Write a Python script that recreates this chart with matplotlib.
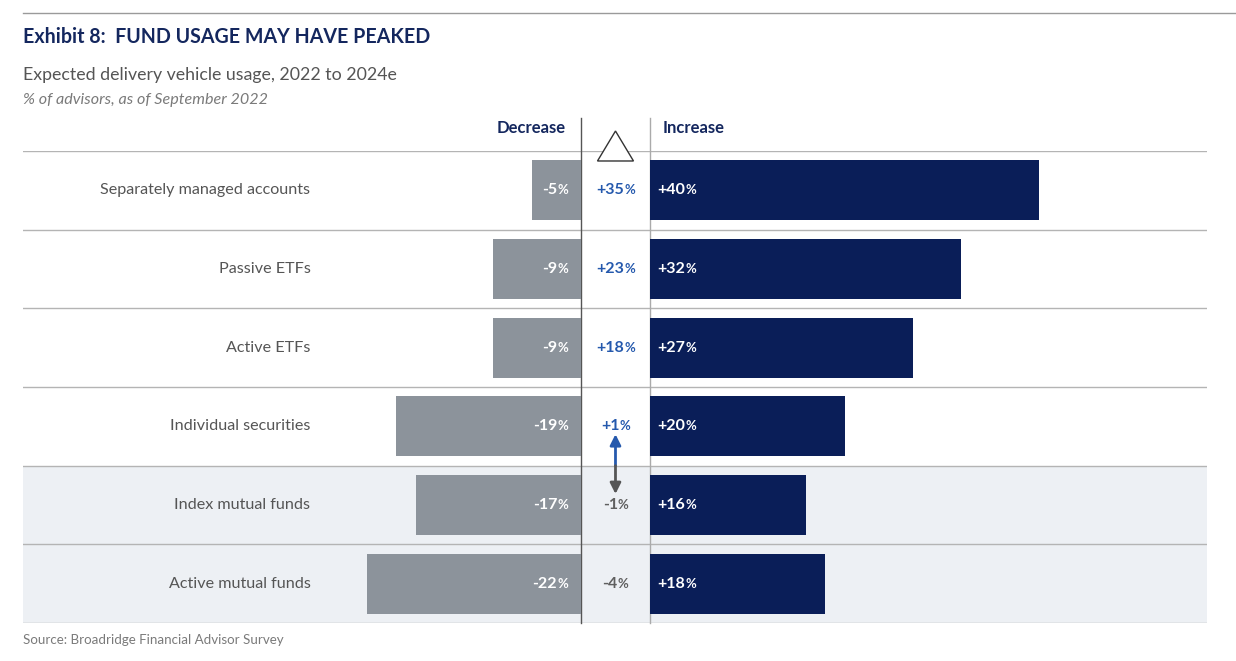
import matplotlib
matplotlib.use("Agg")
import matplotlib.pyplot as plt
from matplotlib.lines import Line2D
from matplotlib.patches import Polygon
from matplotlib.transforms import offset_copy

plt.rcParams['font.family'] = ['Lato', 'DejaVu Sans']

# data
categories = ["Separately managed accounts", "Passive ETFs", "Active ETFs",
              "Individual securities", "Index mutual funds", "Active mutual funds"]
decrease = [5, 9, 9, 19, 17, 22]
increase = [40, 32, 27, 20, 16, 18]
net = [35, 23, 18, 1, -1, -4]

# colours
NAVY = "#0a1e58"
GREY_BAR = "#8c939b"
BLUE = "#2559ad"
GREY_TXT = "#5f5f5f"
LINE = "#b4b4b4"

W, H = 1236, 661
fig = plt.figure(figsize=(W / 100, H / 100), dpi=100)
fig.patch.set_facecolor("white")

# header texts
fig.add_artist(Line2D([23 / W, 1], [1 - 13 / H] * 2, transform=fig.transFigure, color="#9a9a9a", lw=1))
fig.text(23 / W, 1 - 37 / H, "Exhibit 8:  FUND USAGE MAY HAVE PEAKED", color="#14275e",
         fontsize=14.1, fontweight="bold", va="center")
fig.text(23 / W, 1 - 75 / H, "Expected delivery vehicle usage, 2022 to 2024e", color="#555555",
         fontsize=12.8, va="center")
fig.text(23 / W, 1 - 100 / H, "% of advisors, as of September 2022", color="#7a7a7a",
         fontsize=11.6, style="italic", va="center")
fig.text(23 / W, 1 - 640 / H, "Source: Broadridge Financial Advisor Survey", color="#7a7a7a",
         fontsize=9.6, va="center")

XMIN, GAP, XMAX = -57.35, 7.1, 64.35
ax = fig.add_axes([23 / W, 1 - 623 / H, 1184 / W, 472 / H])
ax.set_xlim(XMIN, XMAX)
ax.set_ylim(len(categories), 0)
ax.axis("off")

ax.axhspan(4, 6, color="#edf0f4", zorder=0, lw=0)
for i in range(len(categories) + 1):
    ax.axhline(i, color=LINE, lw=1, zorder=1)

ax.plot([0, 0], [-0.42, 6], color="#555555", lw=1, clip_on=False, zorder=1)
ax.plot([GAP, GAP], [-0.42, 6], color="#aaaaaa", lw=1, clip_on=False, zorder=1)

ys = [i + 0.5 for i in range(len(categories))]
ax.barh(ys, [-d for d in decrease], height=0.76, color=GREY_BAR, zorder=2)
ax.barh(ys, increase, left=GAP, height=0.76, color=NAVY, zorder=2)


def pct_label(x, y, num, color, ha, size=11.5):
    shift = {"left": 0, "center": -3.8, "right": -8}[ha]
    tr = offset_copy(ax.transData, fig=fig, x=shift, y=0, units="points")
    t = ax.text(x, y, num, ha=ha, va="center", color=color, fontsize=size,
                fontweight="bold", transform=tr, zorder=4)
    ax.annotate("%", xy=(1, 0.22), xycoords=t, ha="left", va="baseline",
                color=color, fontsize=size * 0.82, fontweight="bold", zorder=4)


for y, cat, d, inc, n in zip(ys, categories, decrease, increase, net):
    ax.text(-27.8, y, cat, ha="right", va="center", fontsize=11.6, color="#555555")
    pct_label(-1.3, y, f"-{d}", "white", "right")
    pct_label(GAP + 0.75, y, f"+{inc}", "white", "left")
    pct_label(GAP / 2, y, f"{n:+d}", BLUE if n > 0 else GREY_TXT, "center")

ax.text(-1.55, -0.29, "Decrease", ha="right", va="center", fontsize=12,
        fontweight="bold", color="#14275e")
ax.text(GAP + 1.25, -0.29, "Increase", ha="left", va="center", fontsize=12,
        fontweight="bold", color="#14275e")

# triangle (delta) symbol
tri = Polygon([[GAP / 2 - 1.85, 0.127], [GAP / 2 + 1.85, 0.127], [GAP / 2, -0.254]],
              closed=True, facecolor="white", edgecolor="#333333", lw=1, clip_on=False, zorder=5)
ax.add_patch(tri)

# arrows between +1% and -1%
ax.annotate("", xy=(GAP / 2, 3.6), xytext=(GAP / 2, 4.0),
            arrowprops=dict(arrowstyle="-|>", color=BLUE, lw=2, mutation_scale=16,
                            shrinkA=0, shrinkB=0), zorder=5)
ax.annotate("", xy=(GAP / 2, 4.36), xytext=(GAP / 2, 4.0),
            arrowprops=dict(arrowstyle="-|>", color="#555555", lw=2, mutation_scale=16,
                            shrinkA=0, shrinkB=0), zorder=5)

fig.savefig("out.png", dpi=100)
